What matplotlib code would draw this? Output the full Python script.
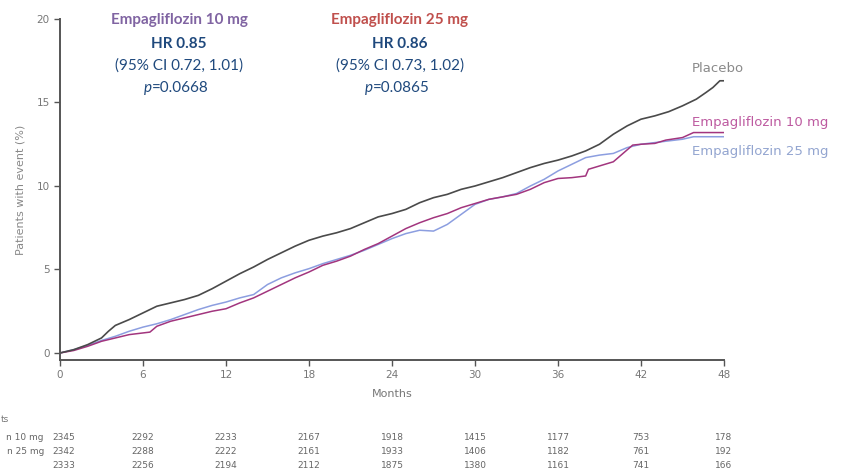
import matplotlib
matplotlib.use("Agg")
import matplotlib.pyplot as plt
import matplotlib.transforms as mtransforms

# cumulative incidence (months, % of patients)
placebo_m = [0, 1, 2, 3, 3.5, 4, 5, 6, 7, 8, 9, 10, 11, 12, 13, 14, 15, 16, 17, 18,
             19, 20, 21, 22, 23, 24, 25, 26, 27, 28, 29, 30, 31, 32, 33, 34, 35, 36,
             37, 38, 39, 40, 41, 42, 43, 44, 45, 46, 46.7, 47.2, 47.7, 48]
placebo_v = [0, 0.2, 0.5, 0.9, 1.3, 1.65, 2.0, 2.4, 2.8, 3.0, 3.2, 3.45, 3.85, 4.3, 4.75,
             5.15, 5.6, 6.0, 6.4, 6.75, 7.0, 7.2, 7.45, 7.8, 8.15, 8.35, 8.6, 9.0, 9.3,
             9.5, 9.8, 10.0, 10.25, 10.5, 10.8, 11.1, 11.35, 11.55, 11.8, 12.1, 12.5,
             13.1, 13.6, 14.0, 14.2, 14.45, 14.8, 15.2, 15.6, 15.9, 16.3, 16.3]

empa10_m = [0, 1, 2, 3, 4, 5, 6, 6.5, 7, 8, 9, 10, 11, 12, 13, 14, 15, 16, 17, 18, 19,
            20, 21, 22, 23, 24, 25, 26, 27, 28, 29, 30, 31, 32, 33, 34, 35, 36, 37, 38,
            38.2, 39, 40, 40.7, 41.4, 42, 43, 43.8, 45, 45.8, 48]
empa10_v = [0, 0.15, 0.4, 0.7, 0.9, 1.1, 1.2, 1.25, 1.6, 1.9, 2.1, 2.3, 2.5, 2.65, 3.0,
            3.3, 3.7, 4.1, 4.5, 4.85, 5.25, 5.5, 5.8, 6.2, 6.55, 7.0, 7.45, 7.8, 8.1,
            8.35, 8.7, 8.95, 9.2, 9.35, 9.5, 9.8, 10.2, 10.45, 10.5, 10.6, 11.0, 11.2,
            11.45, 11.95, 12.45, 12.5, 12.55, 12.75, 12.9, 13.2, 13.2]

empa25_m = [0, 1, 2, 3, 4, 5, 6, 7, 8, 9, 10, 11, 12, 13, 14, 15, 16, 17, 18, 19, 20,
            21, 22, 23, 24, 25, 26, 27, 28, 29, 30, 31, 32, 33, 34, 35, 36, 37, 38, 39,
            40, 41, 42, 43, 44, 45, 45.8, 48]
empa25_v = [0, 0.2, 0.45, 0.75, 1.0, 1.3, 1.55, 1.75, 2.0, 2.3, 2.6, 2.85, 3.05, 3.3,
            3.5, 4.1, 4.5, 4.8, 5.05, 5.35, 5.6, 5.85, 6.15, 6.5, 6.85, 7.15, 7.35, 7.3,
            7.7, 8.3, 8.9, 9.2, 9.35, 9.55, 10.0, 10.4, 10.9, 11.3, 11.7, 11.85, 11.95,
            12.3, 12.5, 12.6, 12.7, 12.8, 12.95, 12.95]

# numbers at risk (row labels are cut at the image edge in the original)
risk_months = [0, 6, 12, 18, 24, 30, 36, 42, 48]
risk_labels = ["n 10 mg", "n 25 mg", ""]
risk_10 = [2345, 2292, 2233, 2167, 1918, 1415, 1177, 753, 178]
risk_25 = [2342, 2288, 2222, 2161, 1933, 1406, 1182, 761, 192]
risk_pl = [2333, 2256, 2194, 2112, 1875, 1380, 1161, 741, 166]

W, H = 854, 473
fig = plt.figure(figsize=(W / 100, H / 100), dpi=100)
ax = fig.add_axes([60 / W, 1 - 360 / H, 664 / W, 341 / H])

ax.plot(empa25_m, empa25_v, color="#8c9ee0", lw=1.1)
ax.plot(empa10_m, empa10_v, color="#a2357e", lw=1.1)
ax.plot(placebo_m, placebo_v, color="#4a4a4a", lw=1.2)

ax.set_xlim(0, 48)
ax.set_ylim(-0.42, 20)
ax.set_xticks(risk_months)
ax.set_yticks([0, 5, 10, 15, 20])
for s in ["top", "right"]:
    ax.spines[s].set_visible(False)
for s in ["left", "bottom"]:
    ax.spines[s].set_color("#555555")
    ax.spines[s].set_linewidth(1.4)
ax.tick_params(colors="#555555", labelcolor="#777777", labelsize=7.5, length=4, width=1)
ax.set_xlabel("Months", color="#777777", fontsize=8, labelpad=6)
ax.set_ylabel("Patients with event (%)", color="#888888", fontsize=8, labelpad=8)

# curve labels on the right
fig.text(692 / W, 1 - 68 / H, "Placebo", fontsize=9.5, color="#8a8a8a", va="center")
fig.text(692 / W, 1 - 122 / H, "Empagliflozin 10 mg", fontsize=9.5, color="#bd5aa0", va="center")
fig.text(692 / W, 1 - 151 / H, "Empagliflozin 25 mg", fontsize=9.5, color="#93a5d0", va="center")

# hazard ratio boxes
blue = "#1f497d"
blocks = [(179, "Empagliflozin 10 mg", "#8064a2", "HR 0.85", "(95% CI 0.72, 1.01)", "=0.0668"),
          (400, "Empagliflozin 25 mg", "#c0504d", "HR 0.86", "(95% CI 0.73, 1.02)", "=0.0865")]
for cx, name, col, hr, ci, pv in blocks:
    fx = cx / W
    fig.text(fx, 1 - 20 / H, name, ha="center", va="center", fontsize=11,
             fontweight="bold", color=col, family="Lato")
    fig.text(fx, 1 - 44 / H, hr, ha="center", va="center", fontsize=11,
             fontweight="bold", color=blue, family="Lato")
    fig.text(fx, 1 - 66 / H, ci, ha="center", va="center", fontsize=11,
             color=blue, family="Lato")
    fig.text((cx - 27) / W, 1 - 88 / H, "p", ha="right", va="center", fontsize=11,
             style="italic", color=blue, family="Lato")
    fig.text((cx - 27) / W, 1 - 88 / H, pv, ha="left", va="center", fontsize=11,
             color=blue, family="Lato")

# numbers at risk table
trans = mtransforms.blended_transform_factory(ax.transData, fig.transFigure)
fig.text(1 / W, 1 - 420 / H, "ts", fontsize=6.5, color="#777777", va="center")
rows_y = [437, 451, 465]
for lab, vals, yy in zip(risk_labels, [risk_10, risk_25, risk_pl], rows_y):
    if lab:
        fig.text(44 / W, 1 - yy / H, lab, fontsize=6.5, color="#666666", va="center", ha="right")
    for m, v in zip(risk_months, vals):
        xm = m + 0.3 if m == 0 else m
        ax.text(xm, 1 - yy / H, str(v), transform=trans, ha="center", va="center",
                fontsize=6.5, color="#666666")

fig.savefig("out.png", dpi=100)
